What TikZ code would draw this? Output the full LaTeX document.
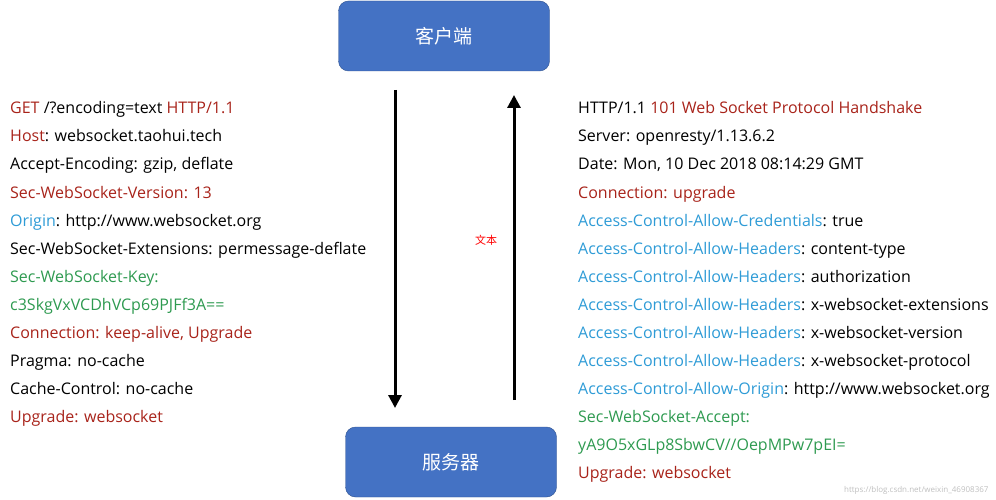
\documentclass[tikz,border=0pt]{standalone}
\usepackage{fontspec}
\setmainfont{Open Sans}
\newfontfamily\cjk{Noto Sans CJK SC}
\usetikzlibrary{positioning,arrows.meta}
\definecolor{hred}{HTML}{A8231A}
\definecolor{hblue}{HTML}{2E9BD6}
\definecolor{hgreen}{HTML}{2E9A50}
\definecolor{boxfill}{HTML}{4472C4}
\definecolor{boxline}{HTML}{2F528F}
\tikzset{
    endpoint/.style={draw=boxline,fill=boxfill,rounded corners=10pt,minimum width=211pt,minimum height=70pt,text=white,font=\cjk\fontsize{19}{19}\selectfont},
    hline/.style={anchor=base west,inner sep=0pt,font=\fontsize{16}{16}\selectfont},
    flow/.style={line width=3pt,-{Triangle[length=13pt,width=13pt]}}
}
\newcommand{\R}[1]{\textcolor{hred}{#1}}
\newcommand{\B}[1]{\textcolor{hblue}{#1}}
\newcommand{\G}[1]{\textcolor{hgreen}{#1}}
\begin{document}
\begin{tikzpicture}[x=1pt,y=-1pt]
\useasboundingbox (0,0) rectangle (996,500);
\node[endpoint] (client) at (444,36) {客户端};
\node[endpoint] (server) at (451,462) {服务器};
% request
\node[hline] (q1) at (10,114) {\R{GET} /?encoding=text \R{HTTP/1.1}};
\node[hline] (q2) at (10,142) {\R{Host}: websocket.taohui.tech};
\node[hline] (q3) at (10,170) {Accept-Encoding: gzip, deflate};
\node[hline] (q4) at (10,198) {\R{Sec-WebSocket-Version: 13}};
\node[hline] (q5) at (10,226) {\B{Origin}: http://www.websocket.org};
\node[hline] (q6) at (10,254) {Sec-WebSocket-Extensions: permessage-deflate};
\node[hline] (q7) at (10,282) {\G{Sec-WebSocket-Key:}};
\node[hline] (q8) at (10,310) {\G{c3SkgVxVCDhVCp69PJFf3A==}};
\node[hline] (q9) at (10,338) {\R{Connection: keep-alive, Upgrade}};
\node[hline] (q10) at (10,366) {Pragma: no-cache};
\node[hline] (q11) at (10,394) {Cache-Control: no-cache};
\node[hline] (q12) at (10,422) {\R{Upgrade: websocket}};
% response
\node[hline] (p1) at (578,114) {HTTP/1.1 \R{101 Web Socket Protocol Handshake}};
\node[hline] (p2) at (578,142) {Server: openresty/1.13.6.2};
\node[hline] (p3) at (578,170) {Date: Mon, 10 Dec 2018 08:14:29 GMT};
\node[hline] (p4) at (578,198) {\R{Connection: upgrade}};
\node[hline] (p5) at (578,226) {\B{Access-Control-Allow-Credentials}: true};
\node[hline] (p6) at (578,254) {\B{Access-Control-Allow-Headers}: content-type};
\node[hline] (p7) at (578,282) {\B{Access-Control-Allow-Headers}: authorization};
\node[hline] (p8) at (578,310) {\B{Access-Control-Allow-Headers}: x-websocket-extensions};
\node[hline] (p9) at (578,338) {\B{Access-Control-Allow-Headers}: x-websocket-version};
\node[hline] (p10) at (578,366) {\B{Access-Control-Allow-Headers}: x-websocket-protocol};
\node[hline] (p11) at (578,394) {\B{Access-Control-Allow-Origin}: http://www.websocket.org};
\node[hline] (p12) at (578,422) {\G{Sec-WebSocket-Accept:}};
\node[hline] (p13) at (578,450) {\G{yA9O5xGLp8SbwCV//OepMPw7pEI=}};
\node[hline] (p14) at (578,478) {\R{Upgrade: websocket}};
\node[text=red,font=\cjk\fontsize{11}{11}\selectfont] (txt) at (486,240) {文本};
% arrows
\coordinate (d1) at (395,90);
\coordinate (d2) at (395,408);
\coordinate (u1) at (514,400);
\coordinate (u2) at (514,95);
\draw[flow] (d1) -- (d2);
\draw[flow] (u1) -- (u2);
\node[text=black!25,anchor=east,font=\fontsize{8}{8}\selectfont] (mark) at (992,490) {https://blog.csdn.net/weixin\_46908367};
\end{tikzpicture}
\end{document}
